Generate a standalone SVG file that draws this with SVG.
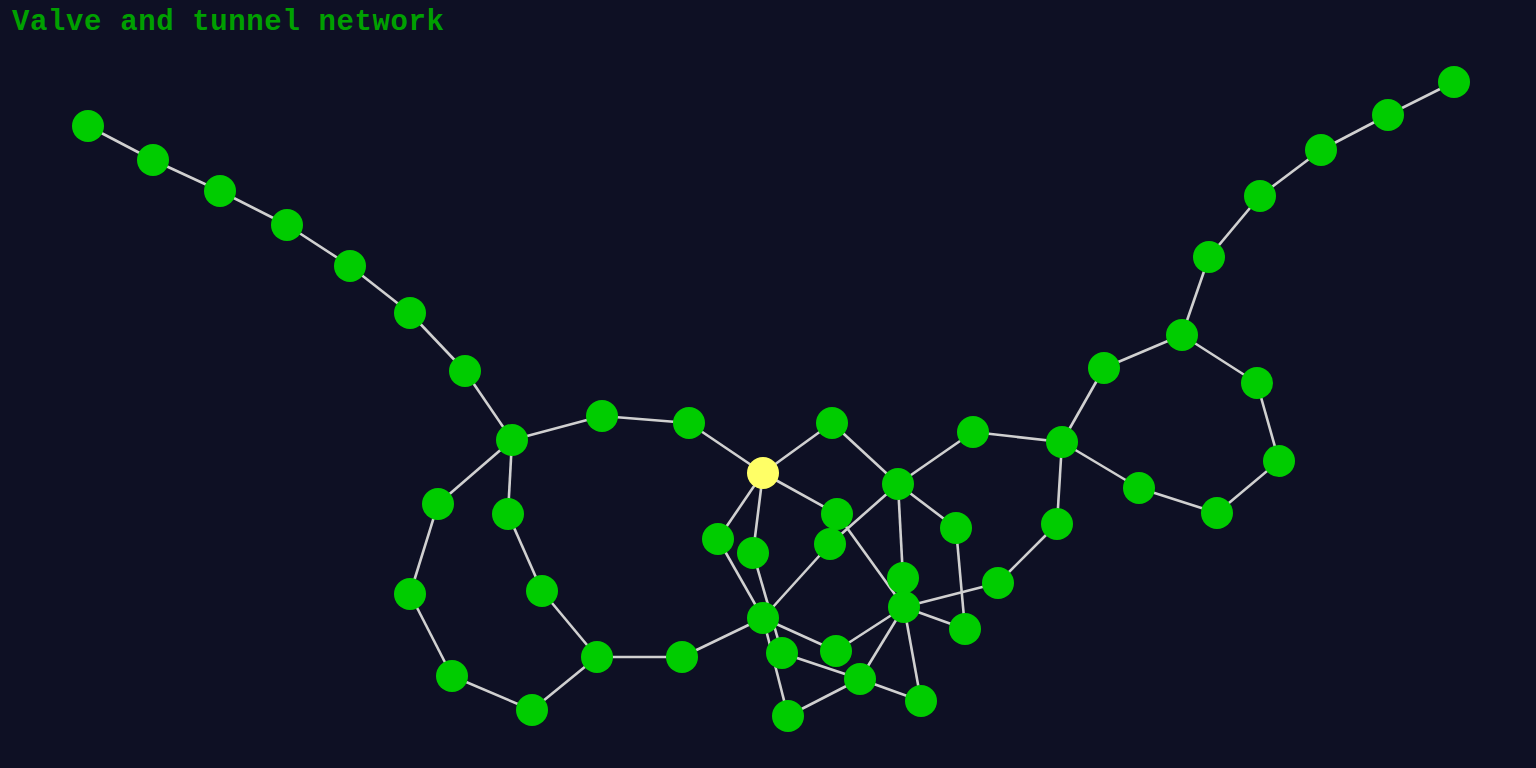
<svg xmlns="http://www.w3.org/2000/svg" width="1536" height="768" viewBox="0 0 1536 768">
<style>
.e{stroke:#d0d0d0;stroke-width:2.6;fill:none}
.n{fill:#00cc00}
.s{fill:#ffff66}
.t{font-family:"Liberation Mono","Courier New",monospace;font-weight:bold;font-size:29px;fill:#00a000}
</style>
<rect width="1536" height="768" fill="#0e1024"/>
<text class="t" x="12" y="30" textLength="432" lengthAdjust="spacing">Valve and tunnel network</text>
<g id="edges">
<line class="e" x1="88" y1="126" x2="153" y2="160"/>
<line class="e" x1="153" y1="160" x2="220" y2="191"/>
<line class="e" x1="220" y1="191" x2="287" y2="225"/>
<line class="e" x1="287" y1="225" x2="350" y2="266"/>
<line class="e" x1="350" y1="266" x2="410" y2="313"/>
<line class="e" x1="410" y1="313" x2="465" y2="371"/>
<line class="e" x1="465" y1="371" x2="512" y2="440"/>
<line class="e" x1="512" y1="440" x2="602" y2="416"/>
<line class="e" x1="602" y1="416" x2="689" y2="423"/>
<line class="e" x1="512" y1="440" x2="438" y2="504"/>
<line class="e" x1="512" y1="440" x2="508" y2="514"/>
<line class="e" x1="438" y1="504" x2="410" y2="594"/>
<line class="e" x1="410" y1="594" x2="452" y2="676"/>
<line class="e" x1="452" y1="676" x2="532" y2="710"/>
<line class="e" x1="532" y1="710" x2="597" y2="657"/>
<line class="e" x1="508" y1="514" x2="542" y2="591"/>
<line class="e" x1="542" y1="591" x2="597" y2="657"/>
<line class="e" x1="597" y1="657" x2="682" y2="657"/>
<line class="e" x1="682" y1="657" x2="763" y2="618"/>
<line class="e" x1="689" y1="423" x2="763" y2="473"/>
<line class="e" x1="763" y1="473" x2="832" y2="423"/>
<line class="e" x1="763" y1="473" x2="837" y2="514"/>
<line class="e" x1="763" y1="473" x2="718" y2="539"/>
<line class="e" x1="763" y1="473" x2="753" y2="553"/>
<line class="e" x1="832" y1="423" x2="898" y2="484"/>
<line class="e" x1="898" y1="484" x2="973" y2="432"/>
<line class="e" x1="898" y1="484" x2="830" y2="544"/>
<line class="e" x1="830" y1="544" x2="763" y2="618"/>
<line class="e" x1="898" y1="484" x2="956" y2="528"/>
<line class="e" x1="898" y1="484" x2="903" y2="578"/>
<line class="e" x1="903" y1="578" x2="904" y2="607"/>
<line class="e" x1="837" y1="514" x2="904" y2="607"/>
<line class="e" x1="718" y1="539" x2="763" y2="618"/>
<line class="e" x1="753" y1="553" x2="782" y2="653"/>
<line class="e" x1="763" y1="618" x2="788" y2="716"/>
<line class="e" x1="763" y1="618" x2="836" y2="651"/>
<line class="e" x1="836" y1="651" x2="904" y2="607"/>
<line class="e" x1="782" y1="653" x2="860" y2="679"/>
<line class="e" x1="860" y1="679" x2="921" y2="701"/>
<line class="e" x1="860" y1="679" x2="904" y2="607"/>
<line class="e" x1="788" y1="716" x2="860" y2="679"/>
<line class="e" x1="904" y1="607" x2="998" y2="583"/>
<line class="e" x1="904" y1="607" x2="965" y2="629"/>
<line class="e" x1="904" y1="607" x2="921" y2="701"/>
<line class="e" x1="956" y1="528" x2="965" y2="629"/>
<line class="e" x1="973" y1="432" x2="1062" y2="442"/>
<line class="e" x1="1062" y1="442" x2="1104" y2="368"/>
<line class="e" x1="1104" y1="368" x2="1182" y2="335"/>
<line class="e" x1="1182" y1="335" x2="1209" y2="257"/>
<line class="e" x1="1209" y1="257" x2="1260" y2="196"/>
<line class="e" x1="1260" y1="196" x2="1321" y2="150"/>
<line class="e" x1="1321" y1="150" x2="1388" y2="115"/>
<line class="e" x1="1388" y1="115" x2="1454" y2="82"/>
<line class="e" x1="1182" y1="335" x2="1257" y2="383"/>
<line class="e" x1="1257" y1="383" x2="1279" y2="461"/>
<line class="e" x1="1279" y1="461" x2="1217" y2="513"/>
<line class="e" x1="1217" y1="513" x2="1139" y2="488"/>
<line class="e" x1="1139" y1="488" x2="1062" y2="442"/>
<line class="e" x1="1062" y1="442" x2="1057" y2="524"/>
<line class="e" x1="1057" y1="524" x2="998" y2="583"/>
</g>
<g id="n1"><circle class="n" cx="88" cy="126" r="16"/></g>
<g id="n2"><circle class="n" cx="153" cy="160" r="16"/></g>
<g id="n3"><circle class="n" cx="220" cy="191" r="16"/></g>
<g id="n4"><circle class="n" cx="287" cy="225" r="16"/></g>
<g id="n5"><circle class="n" cx="350" cy="266" r="16"/></g>
<g id="n6"><circle class="n" cx="410" cy="313" r="16"/></g>
<g id="n7"><circle class="n" cx="465" cy="371" r="16"/></g>
<g id="n8"><circle class="n" cx="512" cy="440" r="16"/></g>
<g id="n9"><circle class="n" cx="602" cy="416" r="16"/></g>
<g id="n10"><circle class="n" cx="689" cy="423" r="16"/></g>
<g id="n11"><circle class="n" cx="438" cy="504" r="16"/></g>
<g id="n12"><circle class="n" cx="508" cy="514" r="16"/></g>
<g id="n13"><circle class="n" cx="410" cy="594" r="16"/></g>
<g id="n14"><circle class="n" cx="542" cy="591" r="16"/></g>
<g id="n15"><circle class="n" cx="452" cy="676" r="16"/></g>
<g id="n16"><circle class="n" cx="532" cy="710" r="16"/></g>
<g id="n17"><circle class="n" cx="597" cy="657" r="16"/></g>
<g id="n18"><circle class="n" cx="682" cy="657" r="16"/></g>
<g id="start"><circle class="s" cx="763" cy="473" r="16"/></g>
<g id="n19"><circle class="n" cx="832" cy="423" r="16"/></g>
<g id="n20"><circle class="n" cx="898" cy="484" r="16"/></g>
<g id="n21"><circle class="n" cx="973" cy="432" r="16"/></g>
<g id="n22"><circle class="n" cx="837" cy="514" r="16"/></g>
<g id="n23"><circle class="n" cx="718" cy="539" r="16"/></g>
<g id="n24"><circle class="n" cx="753" cy="553" r="16"/></g>
<g id="n25"><circle class="n" cx="830" cy="544" r="16"/></g>
<g id="n26"><circle class="n" cx="956" cy="528" r="16"/></g>
<g id="n27"><circle class="n" cx="903" cy="578" r="16"/></g>
<g id="n28"><circle class="n" cx="904" cy="607" r="16"/></g>
<g id="n29"><circle class="n" cx="763" cy="618" r="16"/></g>
<g id="n30"><circle class="n" cx="965" cy="629" r="16"/></g>
<g id="n31"><circle class="n" cx="782" cy="653" r="16"/></g>
<g id="n32"><circle class="n" cx="836" cy="651" r="16"/></g>
<g id="n33"><circle class="n" cx="860" cy="679" r="16"/></g>
<g id="n34"><circle class="n" cx="921" cy="701" r="16"/></g>
<g id="n35"><circle class="n" cx="788" cy="716" r="16"/></g>
<g id="n36"><circle class="n" cx="998" cy="583" r="16"/></g>
<g id="n37"><circle class="n" cx="1062" cy="442" r="16"/></g>
<g id="n38"><circle class="n" cx="1057" cy="524" r="16"/></g>
<g id="n39"><circle class="n" cx="1104" cy="368" r="16"/></g>
<g id="n40"><circle class="n" cx="1182" cy="335" r="16"/></g>
<g id="n41"><circle class="n" cx="1209" cy="257" r="16"/></g>
<g id="n42"><circle class="n" cx="1260" cy="196" r="16"/></g>
<g id="n43"><circle class="n" cx="1321" cy="150" r="16"/></g>
<g id="n44"><circle class="n" cx="1388" cy="115" r="16"/></g>
<g id="n45"><circle class="n" cx="1454" cy="82" r="16"/></g>
<g id="n46"><circle class="n" cx="1257" cy="383" r="16"/></g>
<g id="n47"><circle class="n" cx="1279" cy="461" r="16"/></g>
<g id="n48"><circle class="n" cx="1217" cy="513" r="16"/></g>
<g id="n49"><circle class="n" cx="1139" cy="488" r="16"/></g>
</svg>
